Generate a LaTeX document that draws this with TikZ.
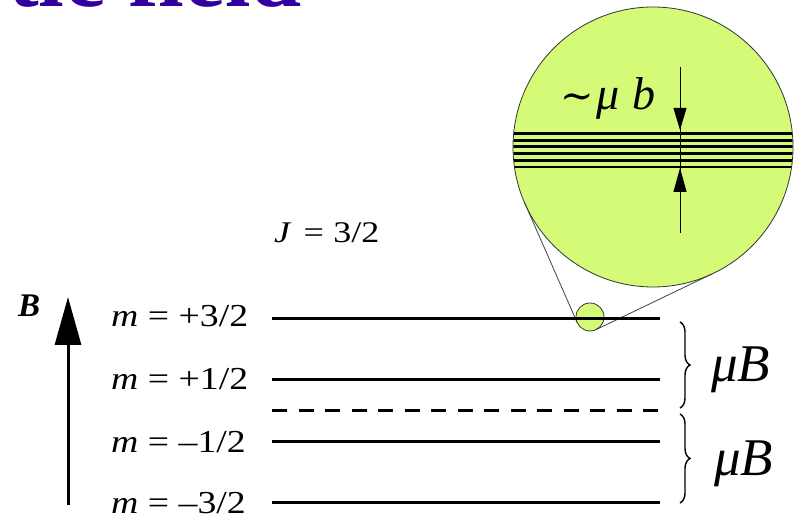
\documentclass[tikz,border=0pt]{standalone}
\usepackage{fontspec}
\usepackage{graphicx}
\setmainfont{Liberation Serif}
\newfontfamily\symfont{DejaVu Serif}
\usetikzlibrary{arrows.meta,decorations.pathreplacing,calc}
\definecolor{zoomgreen}{RGB}{212,250,120}
\definecolor{titleblue}{RGB}{51,0,160}
\begin{document}
\begin{tikzpicture}[x=1pt,y=1pt,
  level/.style={line width=3pt},
  dimline/.style={line width=1pt},
  thinline/.style={line width=0.8pt, draw=black!75},
  circ/.style={circle, draw=black!80, line width=0.8pt, fill=zoomgreen, inner sep=0pt, outer sep=0pt},
  mlabel/.style={anchor=base west, inner sep=0pt, font=\fontsize{32}{38}\selectfont},
  bracestyle/.style={decorate, decoration={brace, amplitude=10pt}, line width=1.4pt},
  mublabel/.style={anchor=base west, inner sep=0pt, font=\fontsize{53}{60}\selectfont\itshape}
]
\useasboundingbox (0,0) rectangle (799,518);
\clip (0,0) rectangle (799,518);

% title (cropped)
\node[anchor=base east, inner sep=0pt, text=titleblue, font=\fontsize{92}{100}\selectfont\bfseries] (title) at (302,511) {tic field};

% magnifier circles
\node[circ, minimum size=28pt] (sc) at (590,201) {};
\node[circ, minimum size=280pt] (bc) at (653,371) {};
\draw[thinline] (sc.203.67) -- (bc.203.67);
\draw[thinline] (sc.295.67) -- (bc.295.67);

\begin{scope}
  \clip (653,371) circle (139.6);
  \foreach \yy in {384.5,377.8,371.1,364.4,357.7,351.0}
    \draw[line width=2.8pt] (505,\yy) -- (800,\yy);
\end{scope}

% dimension arrows
\coordinate (dtop) at (680,451);
\coordinate (dbot) at (680,285);
\coordinate (dtipA) at (680,388);
\coordinate (dtipB) at (680,350);
\draw[dimline] (dtop) -- (dbot);
\draw[dimline, -{Triangle[length=22pt,width=13pt]}] (dtop) -- (dtipA);
\draw[dimline, -{Triangle[length=24pt,width=13pt]}] (dbot) -- (dtipB);

\node[anchor=base west, inner sep=0pt, font=\fontsize{46}{52}\selectfont] (mub) at (560,408)
  {{\fontsize{40}{46}\selectfont\symfont ∼}\hspace{3pt}\textit{μ}\hspace{13pt}\textit{b}};

% J label
\node[anchor=base west, inner sep=0pt, font=\fontsize{30}{36}\selectfont] (J) at (274,275)
  {\scalebox{1.2}[1]{\textit{J}\hspace{10pt}=\hspace{8pt}3/2}};

% B arrow
\node[anchor=base west, inner sep=0pt, font=\fontsize{33}{38}\selectfont\bfseries\itshape] (B) at (18,201) {B};
\coordinate (Bbot) at (68,13);
\coordinate (Btip) at (68,221);
\draw[line width=3pt, -{Triangle[length=48pt,width=26pt]}] (Bbot) -- (Btip);

% level labels
\node[mlabel] (m1) at (111,191) {\scalebox{1.18}[1]{\textit{m} = +3/2}};
\node[mlabel] (m2) at (111,128) {\scalebox{1.18}[1]{\textit{m} = +1/2}};
\node[mlabel] (m3) at (111,65)  {\scalebox{1.18}[1]{\textit{m} = –1/2}};
\node[mlabel] (m4) at (111,4)   {\scalebox{1.18}[1]{\textit{m} = –3/2}};

% levels
\coordinate (l1a) at (272,199); \coordinate (l1b) at (660,199);
\coordinate (l2a) at (272,138); \coordinate (l2b) at (660,138);
\coordinate (l0a) at (272,107); \coordinate (l0b) at (658,107);
\coordinate (l3a) at (272,76);  \coordinate (l3b) at (660,76);
\coordinate (l4a) at (272,15);  \coordinate (l4b) at (660,15);
\draw[level] (l1a) -- (l1b);
\draw[level] (l2a) -- (l2b);
\draw[level, dash pattern=on 15pt off 11.5pt] (l0a) -- (l0b);
\draw[level] (l3a) -- (l3b);
\draw[level] (l4a) -- (l4b);

% braces
\coordinate (br1t) at (680,196); \coordinate (br1b) at (680,110);
\coordinate (br2t) at (680,104); \coordinate (br2b) at (680,15);
\draw[bracestyle] (br1t) -- (br1b);
\draw[bracestyle] (br2t) -- (br2b);
\node[mublabel] (muB1) at (711,136) {μB};
\node[mublabel] (muB2) at (714,42) {μB};
\end{tikzpicture}
\end{document}
